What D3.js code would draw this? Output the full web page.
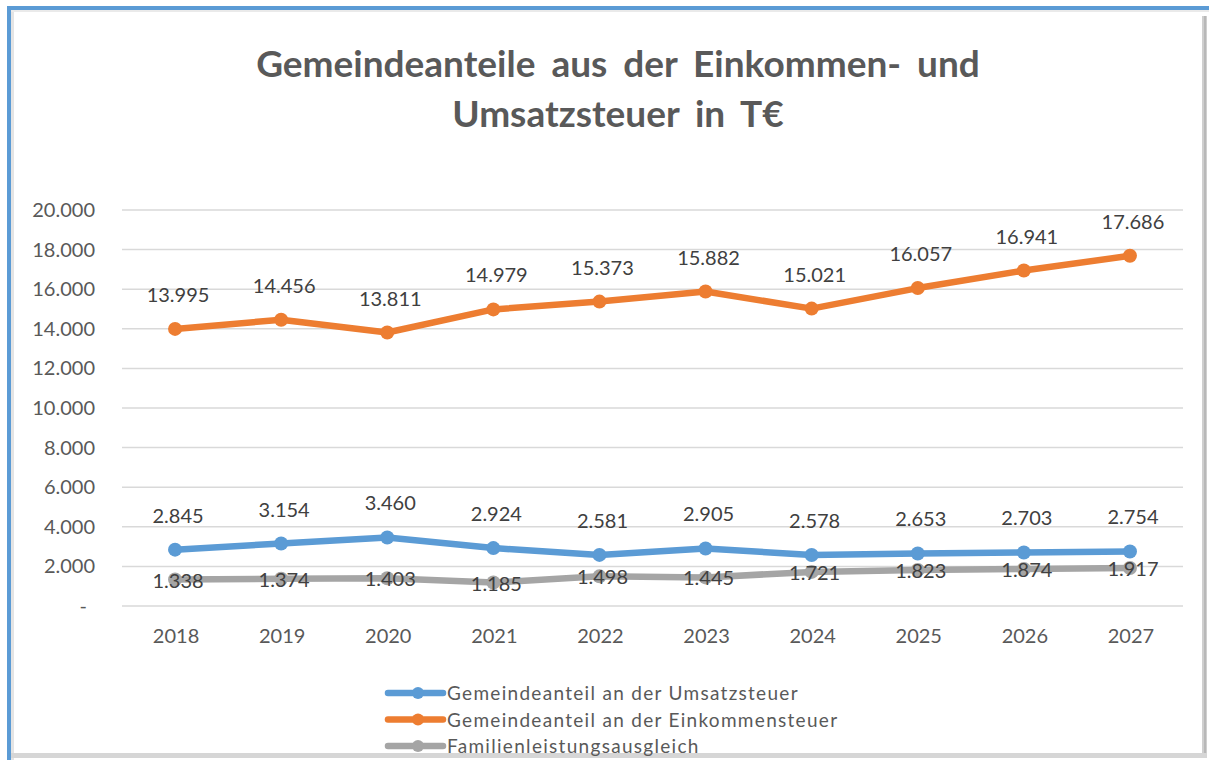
<!DOCTYPE html>
<html lang="de">
<head>
<meta charset="utf-8">
<script src="https://d3js.org/d3.v7.min.js"></script>
<style>
  html, body { margin: 0; padding: 0; background: #fff; }
  svg { display: block; font-family: Lato, "Open Sans", sans-serif; }
  .grid line { stroke: #d9d9d9; stroke-width: 1.5px; }
  .tick-label { fill: #595959; font-size: 20px; }
  .data-label { fill: #404040; font-size: 20px; }
  .legend-label { fill: #595959; font-size: 19px; letter-spacing: 1.3px; }
</style>
</head>
<body>
<div id="chart"></div>
<script>
// chart data
const years = ['2018', '2019', '2020', '2021', '2022', '2023', '2024', '2025', '2026', '2027'];
const umsatzsteuer = [2845, 3154, 3460, 2924, 2581, 2905, 2578, 2653, 2703, 2754];
const einkommensteuer = [13995, 14456, 13811, 14979, 15373, 15882, 15021, 16057, 16941, 17686];
const familienausgleich = [1338, 1374, 1403, 1185, 1498, 1445, 1721, 1823, 1874, 1917];
const yTicks = [0, 2000, 4000, 6000, 8000, 10000, 12000, 14000, 16000, 18000, 20000];
const titleLines = ['Gemeindeanteile aus der Einkommen- und', 'Umsatzsteuer in T€'];

const series = [
  { name: 'Gemeindeanteil an der Umsatzsteuer', values: umsatzsteuer, color: '#5b9bd5', labelPos: 'above' },
  { name: 'Gemeindeanteil an der Einkommensteuer', values: einkommensteuer, color: '#ed7d31', labelPos: 'above' },
  { name: 'Familienleistungsausgleich', values: familienausgleich, color: '#a5a5a5', labelPos: 'center' }
];

const width = 1209, height = 760;
const plot = { left: 122, right: 1183, top: 210, bottom: 606 };

const svg = d3.select('#chart').append('svg')
  .attr('width', width)
  .attr('height', height);

// frame: blue selection border + grey shadow
svg.append('rect').attr('x', 0).attr('y', 0).attr('width', width).attr('height', height).attr('fill', '#fff');
svg.append('rect').attr('x', 11).attr('y', 10).attr('width', 3).attr('height', height).attr('fill', '#e4e4e4');
svg.append('rect').attr('x', 10).attr('y', 10).attr('width', width).attr('height', 2).attr('fill', '#eaeaea');
svg.append('rect').attr('x', 1202).attr('y', 16).attr('width', 5).attr('height', 741).attr('fill', '#cfcfcf');
svg.append('rect').attr('x', 1204).attr('y', 16).attr('width', 2).attr('height', 741).attr('fill', '#b8b8b8');
svg.append('rect').attr('x', 11).attr('y', 753).attr('width', 1196).attr('height', 5).attr('fill', '#d6d6d6');
svg.append('rect').attr('x', 7).attr('y', 6).attr('width', width - 7).attr('height', 4).attr('fill', '#5b9bd5');
svg.append('rect').attr('x', 7).attr('y', 6).attr('width', 4).attr('height', height - 6).attr('fill', '#5b9bd5');

// title
svg.append('text')
  .attr('x', 618)
  .attr('text-anchor', 'middle')
  .attr('fill', '#595959')
  .attr('font-weight', 'bold')
  .attr('font-size', '37px')
  .attr('word-spacing', '7px')
  .selectAll('tspan')
  .data(titleLines)
  .enter().append('tspan')
  .attr('x', 618)
  .attr('y', (d, i) => 77 + i * 50)
  .text(d => d);

// scales
const x = d3.scaleBand().domain(years).range([plot.left, plot.right]);
const y = d3.scaleLinear().domain([0, 20000]).range([plot.bottom, plot.top]);
const fmt = v => v === 0 ? '-' : d3.format(',')(v).replace(/,/g, '.');
const cx = d => x(d) + x.bandwidth() / 2;

// gridlines
svg.append('g').attr('class', 'grid')
  .selectAll('line')
  .data(yTicks)
  .enter().append('line')
  .attr('x1', plot.left).attr('x2', plot.right)
  .attr('y1', d => y(d)).attr('y2', d => y(d));

// y axis labels
svg.append('g')
  .selectAll('text')
  .data(yTicks)
  .enter().append('text')
  .attr('class', 'tick-label')
  .attr('x', d => d === 0 ? 87 : 95)
  .attr('y', d => y(d) + 7)
  .attr('text-anchor', 'end')
  .text(fmt);

// x axis labels
svg.append('g')
  .selectAll('text')
  .data(years)
  .enter().append('text')
  .attr('class', 'tick-label')
  .attr('x', d => cx(d) + 1)
  .attr('y', 643)
  .attr('text-anchor', 'middle')
  .text(d => d);

const line = d3.line()
  .x((d, i) => cx(years[i]))
  .y(d => y(d));

// series lines and markers (grey first so others sit on top)
const drawOrder = [series[2], series[0], series[1]];
drawOrder.forEach(s => {
  const g = svg.append('g');
  g.append('path')
    .datum(s.values)
    .attr('fill', 'none')
    .attr('stroke', s.color)
    .attr('stroke-width', 6.5)
    .attr('stroke-linejoin', 'round')
    .attr('d', line);
  g.selectAll('circle')
    .data(s.values)
    .enter().append('circle')
    .attr('cx', (d, i) => cx(years[i]))
    .attr('cy', d => y(d))
    .attr('r', 7)
    .attr('fill', s.color);
});

// data labels
series.forEach(s => {
  svg.append('g')
    .selectAll('text')
    .data(s.values)
    .enter().append('text')
    .attr('class', 'data-label')
    .attr('x', (d, i) => cx(years[i]) + 3)
    .attr('y', d => s.labelPos === 'above' ? y(d) - 27 : y(d) + 8)
    .attr('text-anchor', 'middle')
    .text(fmt);
});

// legend
const legend = svg.append('g')
  .selectAll('g')
  .data(series)
  .enter().append('g')
  .attr('transform', (d, i) => `translate(388, ${693 + i * 26.5})`);

legend.append('line')
  .attr('x1', 0).attr('x2', 55)
  .attr('stroke', d => d.color)
  .attr('stroke-width', 6.5)
  .attr('stroke-linecap', 'round');
legend.append('circle')
  .attr('cx', 30).attr('r', 6)
  .attr('fill', d => d.color);
legend.append('text')
  .attr('class', 'legend-label')
  .attr('x', 59)
  .attr('y', 7)
  .text(d => d.name);
</script>
</body>
</html>
